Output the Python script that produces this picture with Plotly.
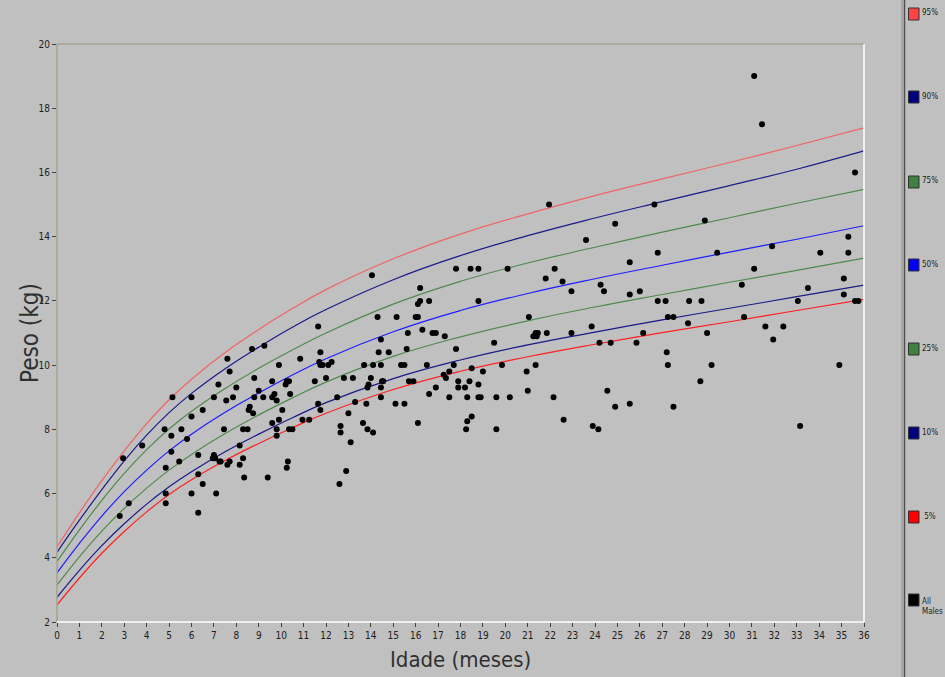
import plotly.graph_objects as go

# ---------------- data ----------------
ages = [0, 1, 2, 3, 4, 5, 6, 7.5, 9, 10.5, 12, 15, 18, 21, 24, 27, 30, 33, 36]
p95 = [4.34, 5.40, 6.40, 7.33, 8.18, 8.92, 9.56, 10.39, 11.11, 11.76, 12.35, 13.31, 14.08, 14.71, 15.28, 15.80, 16.31, 16.84, 17.39]
p90 = [4.17, 5.17, 6.12, 7.02, 7.82, 8.52, 9.12, 9.89, 10.56, 11.18, 11.73, 12.66, 13.41, 14.03, 14.58, 15.09, 15.59, 16.10, 16.67]
p75 = [3.88, 4.87, 5.79, 6.63, 7.37, 8.01, 8.56, 9.27, 9.90, 10.47, 11.00, 11.90, 12.61, 13.18, 13.67, 14.14, 14.59, 15.04, 15.47]
p50 = [3.53, 4.45, 5.30, 6.06, 6.73, 7.33, 7.85, 8.53, 9.13, 9.69, 10.20, 11.04, 11.70, 12.23, 12.69, 13.11, 13.52, 13.92, 14.34]
p25 = [3.15, 4.03, 4.83, 5.54, 6.17, 6.73, 7.22, 7.87, 8.45, 8.98, 9.47, 10.27, 10.88, 11.38, 11.81, 12.20, 12.58, 12.95, 13.33]
p10 = [2.77, 3.61, 4.38, 5.06, 5.67, 6.21, 6.68, 7.30, 7.85, 8.36, 8.83, 9.58, 10.16, 10.63, 11.03, 11.41, 11.77, 12.13, 12.49]
p5 = [2.53, 3.37, 4.14, 4.82, 5.43, 5.97, 6.43, 7.03, 7.56, 8.05, 8.50, 9.24, 9.81, 10.26, 10.65, 11.01, 11.35, 11.70, 12.05]

males = [
    (8.7, 10.5), (9.25, 10.6), (7.6, 10.2), (7.7, 9.8), (8.8, 9.6), (7.2, 9.4), (8.0, 9.3), (9.0, 9.2),
    (5.15, 9.0), (6.0, 9.0), (7.0, 9.0), (7.55, 8.9), (7.85, 9.0), (8.8, 9.0), (9.2, 9.0), (8.6, 8.7),
    (8.55, 8.6), (8.75, 8.5), (6.5, 8.6), (6.0, 8.4), (4.8, 8.0), (5.55, 8.0), (7.45, 8.0), (8.3, 8.0),
    (8.5, 8.0), (5.1, 7.8), (5.8, 7.7), (3.8, 7.5), (8.15, 7.5), (5.1, 7.3), (6.3, 7.2), (7.0, 7.2),
    (6.95, 7.1), (7.05, 7.1), (7.25, 7.0), (7.3, 7.0), (7.7, 7.0), (7.6, 6.9), (8.15, 6.9), (8.3, 7.1),
    (2.95, 7.1), (5.45, 7.0), (4.85, 6.8), (6.3, 6.6), (6.5, 6.3), (8.35, 6.5), (9.4, 6.5), (4.85, 6.0),
    (6.0, 6.0), (7.1, 6.0), (4.85, 5.7), (3.2, 5.7), (6.3, 5.4), (2.8, 5.3),
    (14.05, 12.8), (16.2, 12.4), (16.2, 12.0), (16.1, 11.9), (16.6, 12.0), (11.65, 11.2), (14.3, 11.5),
    (15.15, 11.5), (16.0, 11.5), (16.1, 11.5), (14.45, 10.8), (15.65, 11.0), (16.3, 11.1), (15.6, 10.5),
    (11.75, 10.4), (10.85, 10.2), (11.7, 10.1), (11.75, 10.0), (11.85, 10.0), (12.1, 10.0), (12.25, 10.1),
    (14.35, 10.4), (14.8, 10.4), (9.9, 10.0), (13.7, 10.0), (14.1, 10.0), (14.45, 10.0), (15.35, 10.0),
    (15.5, 10.0), (16.5, 10.0), (9.6, 9.5), (10.2, 9.4), (10.25, 9.5), (10.35, 9.5), (11.5, 9.5),
    (12.0, 9.6), (12.8, 9.6), (13.2, 9.6), (14.0, 9.6), (13.9, 9.4), (13.85, 9.3), (14.45, 9.3),
    (14.5, 9.5), (14.55, 9.5), (15.7, 9.5), (15.9, 9.5), (9.6, 9.0), (9.7, 9.1), (9.8, 8.9), (10.4, 9.1),
    (12.5, 9.0), (14.45, 9.0), (16.6, 9.1), (10.05, 8.6), (11.65, 8.8), (11.75, 8.6), (13.3, 8.85),
    (13.8, 8.8), (15.1, 8.8), (15.5, 8.8), (13.0, 8.5), (9.6, 8.2), (9.9, 8.3), (10.95, 8.3), (11.25, 8.3),
    (16.1, 8.2), (9.8, 8.0), (10.35, 8.0), (10.5, 8.0), (9.8, 7.8), (12.65, 8.1), (12.65, 7.9),
    (13.65, 8.2), (13.85, 8.0), (14.1, 7.9), (13.1, 7.6), (10.3, 7.0), (10.25, 6.8), (12.9, 6.7),
    (12.6, 6.3),
    (21.95, 15.0), (23.6, 13.9), (17.8, 13.0), (18.45, 13.0), (18.8, 13.0), (20.1, 13.0), (22.2, 13.0),
    (21.8, 12.7), (22.55, 12.6), (22.95, 12.3), (18.8, 12.0), (21.05, 11.5), (16.75, 11.0), (16.9, 11.0),
    (17.3, 10.9), (19.5, 10.7), (21.25, 10.9), (21.35, 11.0), (21.45, 11.0), (21.4, 10.9), (21.85, 11.0),
    (22.95, 11.0), (17.8, 10.5), (17.7, 10.0), (19.85, 10.0), (21.35, 10.0), (17.5, 9.8), (18.5, 9.9),
    (19.0, 9.8), (20.95, 9.8), (17.25, 9.7), (17.35, 9.6), (17.9, 9.5), (18.4, 9.5), (18.8, 9.4),
    (16.9, 9.3), (17.9, 9.3), (18.2, 9.3), (17.5, 9.0), (18.3, 9.0), (18.8, 9.0), (18.9, 9.0),
    (19.6, 9.0), (20.2, 9.0), (22.15, 9.0), (21.0, 9.2), (18.5, 8.4), (18.3, 8.25), (18.25, 8.0),
    (19.6, 8.0), (22.6, 8.3),
    (26.65, 15.0), (24.9, 14.4), (28.9, 14.5), (26.8, 13.5), (29.45, 13.5), (25.55, 13.2), (24.25, 12.5),
    (24.4, 12.3), (26.0, 12.3), (25.55, 12.2), (26.8, 12.0), (27.15, 12.0), (28.2, 12.0), (28.75, 12.0),
    (27.25, 11.5), (27.5, 11.5), (23.85, 11.2), (28.15, 11.3), (26.15, 11.0), (29.0, 11.0), (24.2, 10.7),
    (24.7, 10.7), (25.85, 10.7), (27.2, 10.4), (27.25, 10.0), (29.2, 10.0), (28.7, 9.5), (24.55, 9.2),
    (24.9, 8.7), (25.55, 8.8), (27.5, 8.7), (23.9, 8.1), (24.15, 8.0),
    (31.1, 19.0), (31.45, 17.5), (35.6, 16.0), (35.3, 14.0), (31.9, 13.7), (34.05, 13.5), (35.3, 13.5),
    (31.1, 13.0), (30.55, 12.5), (35.1, 12.7), (33.5, 12.4), (35.1, 12.2), (33.05, 12.0), (35.6, 12.0),
    (35.75, 12.0), (30.65, 11.5), (31.6, 11.2), (32.4, 11.2), (31.95, 10.8), (34.9, 10.0), (33.15, 8.1),
]
male_age = [a for a, w in males]
male_wt = [w for a, w in males]

series_names = ["95%", "90%", "75%", "50%", "25%", "10%", "5%"]
series_vals = [p95, p90, p75, p50, p25, p10, p5]
line_colors = ["#f06464", "#1a1a8a", "#4e8a4e", "#1e1eff", "#4e8a4e", "#1a1a8a", "#ff2020"]
box_colors = ["#ff4444", "#000080", "#408040", "#0000ff", "#408040", "#000080", "#ff0000", "#000000"]
legend_labels = ["95%", "90%", "75%", "50%", "25%", "10%", " 5%", "All<br>Males"]

# ---------------- figure ----------------
W, H = 945, 677
L, R, T, B = 57, 81, 44, 55
PW, PH = W - L - R, H - T - B


def px_x(px):
    return (px - L) / PW


def px_y(py):
    return (H - B - py) / PH


fig = go.Figure()
for name, vals, col in zip(series_names, series_vals, line_colors):
    fig.add_trace(go.Scatter(x=ages, y=vals, mode="lines", name=name,
                             line=dict(color=col, width=1.2, shape="spline", smoothing=1.3),
                             showlegend=False, hoverinfo="skip"))
fig.add_trace(go.Scatter(x=male_age, y=male_wt, mode="markers", name="All Males",
                         marker=dict(color="black", size=6, line=dict(width=0)),
                         showlegend=False))

tickfont = dict(family="Liberation Sans Narrow, DejaVu Sans Condensed, Arial Narrow, sans-serif",
                size=10, color="#202020")
fig.update_xaxes(range=[0, 36], dtick=1, tick0=0, showgrid=False, zeroline=False, showline=False,
                 ticks="outside", ticklen=4, tickcolor="#404040", tickfont=tickfont)
fig.update_yaxes(range=[2, 20], dtick=2, tick0=2, showgrid=False, zeroline=False, showline=False,
                 ticks="outside", ticklen=4, tickcolor="#404040", tickfont=tickfont)

shapes = [
    dict(type="line", xref="paper", yref="paper", x0=0, x1=1, y0=1, y1=1, line=dict(color="#a4a490", width=1.5)),
    dict(type="line", xref="paper", yref="paper", x0=0, x1=0, y0=0, y1=1, line=dict(color="#a4a490", width=1.5)),
    dict(type="line", xref="paper", yref="paper", x0=0, x1=1, y0=0, y1=0, line=dict(color="#ffffff", width=1.5)),
    dict(type="line", xref="paper", yref="paper", x0=1, x1=1, y0=0, y1=1, line=dict(color="#ffffff", width=1.5)),
    dict(type="line", xref="paper", yref="paper", x0=px_x(902), x1=px_x(902), y0=px_y(0), y1=px_y(677),
         line=dict(color="#8c8c8c", width=1)),
    dict(type="line", xref="paper", yref="paper", x0=px_x(904.5), x1=px_x(904.5), y0=px_y(0), y1=px_y(677),
         line=dict(color="#505050", width=1.5)),
]
annotations = []
legend_y = [14, 97, 182, 265, 349, 433, 517, 600]
for col, lab, cy in zip(box_colors, legend_labels, legend_y):
    shapes.append(dict(type="rect", xref="paper", yref="paper",
                       x0=px_x(908.5), x1=px_x(919), y0=px_y(cy + 6), y1=px_y(cy - 6),
                       fillcolor=col, line=dict(color="#303030", width=1)))
    annotations.append(dict(xref="paper", yref="paper", x=px_x(920),
                            y=px_y(cy - 1 if "<br>" not in lab else cy + 6),
                            text=lab, showarrow=False, xanchor="left", yanchor="middle", align="left",
                            font=dict(family="DejaVu Sans Condensed, Liberation Sans Narrow, Arial, sans-serif",
                                      size=8, color="#202020")))

titlefont = dict(family="Liberation Sans Narrow, DejaVu Sans Condensed, Arial Narrow, sans-serif",
                 size=22, color="#303030")
annotations.append(dict(xref="paper", yref="paper", x=0.5, y=px_y(660), text="Idade (meses)",
                        showarrow=False, xanchor="center", yanchor="middle", font=titlefont))
annotations.append(dict(xref="paper", yref="paper", x=px_x(30), y=0.5, text="Peso (kg)", textangle=-90,
                        showarrow=False, xanchor="center", yanchor="middle",
                        font=dict(family=titlefont["family"], size=24, color="#303030")))

fig.update_layout(width=W, height=H, margin=dict(l=L, r=R, t=T, b=B, pad=0),
                  paper_bgcolor="#c0c0c0", plot_bgcolor="#c0c0c0",
                  shapes=shapes, annotations=annotations, showlegend=False)

fig.write_html("out.html", config={"displayModeBar": False},
               post_script="document.body.style.margin='0';document.body.style.overflow='hidden';")
